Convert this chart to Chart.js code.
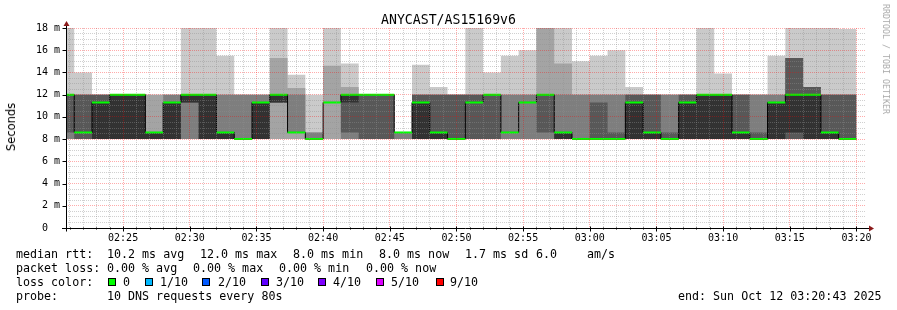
<!DOCTYPE html>
<html><head><meta charset="utf-8">
<script src="https://cdn.jsdelivr.net/npm/chart.js@4/dist/chart.umd.min.js"></script>
<style>
html,body{margin:0;padding:0;background:#fff;}
#wrap{position:relative;width:897px;height:310px;overflow:hidden;background:#fff;}
canvas{position:absolute;left:0;top:0;}
.t{position:absolute;font-family:"DejaVu Sans Mono",monospace;white-space:pre;color:#000;}
.lg{font-size:11.66px;line-height:14px;}
.sq{position:absolute;width:6px;height:6px;border:1px solid #000;}
</style></head><body>
<div id="wrap">
<canvas id="c" width="897" height="310"></canvas>
<div class="t" style="left:0;width:897px;text-align:center;top:12px;font-size:13.2px;line-height:16px;">ANYCAST/AS15169v6</div>
<div class="t" style="left:11px;top:127px;font-family:'DejaVu Sans',sans-serif;font-size:11.5px;line-height:14px;transform:translate(-50%,-50%) rotate(-90deg);">Seconds</div>
<div class="t" style="left:886px;top:59px;font-size:8.3px;line-height:10px;color:#aaa;transform:translate(-50%,-50%) rotate(90deg);">RRDTOOL / TOBI OETIKER</div>

<div class="t lg" style="left:16px;top:247px;">median rtt:</div>
<div class="t lg" style="left:107px;top:247px;">10.2 ms avg</div>
<div class="t lg" style="left:200px;top:247px;">12.0 ms max</div>
<div class="t lg" style="left:293px;top:247px;">8.0 ms min</div>
<div class="t lg" style="left:379px;top:247px;">8.0 ms now</div>
<div class="t lg" style="left:465px;top:247px;">1.7 ms sd</div>
<div class="t lg" style="left:536px;top:247px;">6.0</div>
<div class="t lg" style="left:587px;top:247px;">am/s</div>

<div class="t lg" style="left:16px;top:261px;">packet loss:</div>
<div class="t lg" style="left:107px;top:261px;">0.00 % avg</div>
<div class="t lg" style="left:193px;top:261px;">0.00 % max</div>
<div class="t lg" style="left:279px;top:261px;">0.00 % min</div>
<div class="t lg" style="left:366px;top:261px;">0.00 % now</div>

<div class="t lg" style="left:16px;top:275px;">loss color:</div>
<div id="lossLegend"></div>

<div class="t lg" style="left:16px;top:289px;">probe:</div>
<div class="t lg" style="left:107px;top:289px;">10 DNS requests every 80s</div>
<div class="t lg" style="left:678px;top:289px;">end: Sun Oct 12 03:20:43 2025</div>
</div>
<script>
// ---- data (seconds since midnight for time, ms for rtt) ----
const firstStepStart = 8400;   // 02:20:00
const stepSeconds = 80;
const viewStart = 8443;        // 02:20:43
const viewEnd = 12043;         // 03:20:43

// sorted ping times per step (ms)
const ping1 = [8,8,8,8,8,8,8,8,8,8, 8,8,8,8,8,8,8,8,8,8, 8,8,8,8,8,8,8,8,8,8, 8,8,8,8,8,8,8,8,8,8, 8,8,8,8,8];
const ping2 = [8,8,8,8,8,8,8,8,8,8, 8,8,8,8,8,8,8,8,8,8, 8,8,8,8,8,8,8,8,8,8, 8,8,8,8,8,8,8,8,8,8, 8,8,8,8,8];
const ping3 = [8,8,8,8,8,8,8,8,8,8, 8,8,11.3,8.6,8,11.3,8,8,8,8, 8,8,8,8,8,8,8,8,8,8, 8,8,8,8,8,8,8,8,8,8, 8,8,8,8,8];
const ping4 = [8.6,8,8,8,8,8,8,11.3,8,8, 8,8,11.3,8.6,8,11.3,8.6,8,8,8.6, 8,8,8,8,8,8.6,11.3,8.6,8,8, 8,8,8,8,8,8,8,8,8,8, 8,8,8,8,8];
const ping5 = [12,8.6,8,8,8,8,8,11.3,8,8, 8,8,11.3,8.6,8,11.3,11.3,12,12,8.6, 8,8,8,11.3,12,8.6,11.3,12,8,8, 8,8,8,8,8,8,8,8,8,8, 8,8.6,8,8,8];
const ping6 = [12,8.6,11.3,12,12,8.6,11.3,12,12,8.6, 8,11.3,12,8.6,8,11.3,12,12,12,8.6, 11.3,8.6,8,11.3,12,8.6,11.3,12,8.6,8, 8,8,11.3,8.6,8,11.3,12,12,8.6,8, 11.3,12,12,8.6,8];
const ping7 = [12,12,12,12,12,8.6,11.3,12,12,8.6, 8,11.3,12,8.6,8,11.3,12,12,12,8.6, 12,12,12,12,12,8.6,11.3,12,8.6,8, 11.3,8.6,12,12,8.6,12,12,12,12,8.6, 11.3,15.3,12.7,12,12];
const ping8 = [12,12,12,12,12,8.6,12,12,12,12, 12,12,12,12,8.6,11.3,12,12,12,8.6, 12,12,12,12,12,12,12,12,12,12, 12,12,12,12,12,12,12,12,12,12, 12,15.3,12.7,12,12];
const ping9 = [12,12,12,12,12,12,12,12,12,12, 12,12,15.3,12.6,8.6,14.6,12.7,12,12,8.6, 12,12,12,12,12,12,12,18,14.8,12, 12,12,12,12,12,12,12,12,12,12, 12,15.3,12.7,12,12];
const ping10 = [18,14,12,12,12,12,12,18,18,15.5, 12,12,18,13.8,12,18,14.8,12,12,8.6, 14.7,12.7,12,18,14,15.5,16,18,18,15, 15.5,16,12.7,12,12,12,18,13.9,12,12, 15.5,18,18,18,17.9];
// median rtt per step (ms)
const median = [12,8.6,11.3,12,12,8.6,11.3,12,12,8.6, 8,11.3,12,8.6,8,11.3,12,12,12,8.6, 11.3,8.6,8,11.3,12,8.6,11.3,12,8.6,8, 8,8,11.3,8.6,8,11.3,12,12,8.6,8, 11.3,12,12,8.6,8];

const yTickValues = [0,2,4,6,8,10,12,14,16,18];
const lossLabels = ['0','1/10','2/10','3/10','4/10','5/10','9/10'];
const lossColors = ['#00ff00','#00b8ff','#0059ff','#5e00ff','#7e00ff','#dd00ff','#ff0000'];

// ---- legend squares ----
const sqLeft = [108,145,202,261,318,376,436];
const lbLeft = [123,160,218,276,333,391,450];
const ll = document.getElementById('lossLegend');
lossLabels.forEach((lab,i)=>{
  const s=document.createElement('div'); s.className='sq';
  s.style.left=sqLeft[i]+'px'; s.style.top='278px'; s.style.background=lossColors[i];
  ll.appendChild(s);
  const t=document.createElement('div'); t.className='t lg';
  t.style.left=lbLeft[i]+'px'; t.style.top='275px'; t.textContent=lab;
  ll.appendChild(t);
});

// ---- build step series: each value holds from its step start to the next step ----
function stepSeries(arr){
  const pts = arr.map((v,i)=>({x: firstStepStart + i*stepSeconds, y: v}));
  pts.push({x: firstStepStart + arr.length*stepSeconds, y: arr[arr.length-1]});
  return pts;
}
const bands = [
  [ping1, ping10, '#cacaca'],
  [ping2, ping9, '#a4a4a4'],
  [ping3, ping8, '#7e7e7e'],
  [ping4, ping7, '#585858'],
  [ping5, ping6, '#323232']
];
const STEP = 'before';
const datasets = [];
bands.forEach((b,k)=>{
  datasets.push({data: stepSeries(b[0]), stepped:STEP, borderWidth:0, pointRadius:0, fill:false, order: 100-k*2});
  datasets.push({data: stepSeries(b[1]), stepped:STEP, borderWidth:0, pointRadius:0, fill:'-1', backgroundColor:b[2], borderColor:b[2], order: 99-k*2});
});
datasets.push({data: stepSeries(median), stepped:STEP, borderWidth:1, borderColor:'#000', pointRadius:0, fill:false, order:5});
const halfPx = 18/200; // one pixel in ms
datasets.push({data: stepSeries(median.map(v=>v-halfPx)), stepped:STEP, borderWidth:0, pointRadius:0, fill:false, order:4});
datasets.push({data: stepSeries(median.map(v=>v+halfPx)), stepped:STEP, borderWidth:0, pointRadius:0, fill:'-1', backgroundColor:lossColors[0], order:3});

const majorGrid = 'rgba(255,0,0,0.33)';
const minorGrid = 'rgba(144,144,144,0.42)';
const pad2 = n => (n<10?'0':'')+n;
const fmtTime = v => pad2(Math.floor(v/3600))+':'+pad2(Math.floor((v%3600)/60));

const axesPlugin = {
  id:'axes',
  afterDraw(chart){
    const {ctx, chartArea:a, scales:{x,y}} = chart;
    const y0 = Math.round(y.getPixelForValue(0))+0.5;
    const x0 = Math.round(x.getPixelForValue(viewStart))+0.5;
    ctx.save();
    ctx.strokeStyle='#000'; ctx.lineWidth=1;
    ctx.beginPath();
    ctx.moveTo(a.left-4, y0); ctx.lineTo(a.right+3, y0);
    ctx.moveTo(x0, y0+3); ctx.lineTo(x0, a.top-3);
    yTickValues.forEach(v=>{ const py=Math.round(y.getPixelForValue(v))+0.5; ctx.moveTo(x0-4,py); ctx.lineTo(x0,py); });
    x.ticks.forEach(t=>{ const px=Math.round(x.getPixelForValue(t.value))+0.5;
      if (t.value%300===0){ ctx.moveTo(px,y0-2); ctx.lineTo(px,y0+3);} else { ctx.moveTo(px,y0-1); ctx.lineTo(px,y0+1);} });
    ctx.stroke();
    ctx.fillStyle='#8b1a1a';
    ctx.beginPath(); ctx.moveTo(x0-3, a.top-2); ctx.lineTo(x0+3, a.top-2); ctx.lineTo(x0, a.top-7); ctx.closePath(); ctx.fill();
    ctx.beginPath(); ctx.moveTo(a.right+3, y0-3); ctx.lineTo(a.right+3, y0+3); ctx.lineTo(a.right+8, y0); ctx.closePath(); ctx.fill();
    ctx.restore();
  }
};

new Chart(document.getElementById('c'), {
  type:'line',
  data:{datasets},
  options:{
    responsive:false, animation:false, devicePixelRatio:1,
    layout:{padding:{left:0,right:31,top:28,bottom:0}},
    plugins:{legend:{display:false}, tooltip:{enabled:false}, title:{display:false}},
    elements:{line:{tension:0}},
    scales:{
      x:{
        type:'linear', min:viewStart, max:viewEnd,
        afterBuildTicks: s=>{ const t=[]; for(let v=Math.ceil(viewStart/60)*60; v<=viewEnd; v+=60) t.push({value:v}); s.ticks=t; },
        ticks:{autoSkip:false, maxRotation:0, minRotation:0, padding:4, color:'#000',
          font:{family:'DejaVu Sans Mono', size:10}, callback: v => (v%300===0 ? fmtTime(v) : '')},
        grid:{z:1, drawTicks:false, lineWidth:1, color: c => (c.tick && c.tick.value%300===0 ? majorGrid : minorGrid)},
        border:{display:false, dash:[1,1]},
        afterFit: s=>{ s.height = 82; }
      },
      y:{
        type:'linear', min:0, max:18,
        afterBuildTicks: s=>{ const t=[]; for(let v=0; v<=18; v+=0.5) t.push({value:v}); s.ticks=t; },
        ticks:{autoSkip:false, padding:6, color:'#000', font:{family:'DejaVu Sans Mono', size:10},
          callback: v => (yTickValues.includes(v) ? (v===0 ? '0  ' : v+' m') : '')},
        grid:{z:1, drawTicks:false, lineWidth:1, color: c => (c.tick && yTickValues.includes(c.tick.value) ? majorGrid : minorGrid)},
        border:{display:false, dash:[1,1]},
        afterFit: s=>{ s.width = 66; }
      }
    }
  },
  plugins:[axesPlugin]
});
</script>
</body></html>
